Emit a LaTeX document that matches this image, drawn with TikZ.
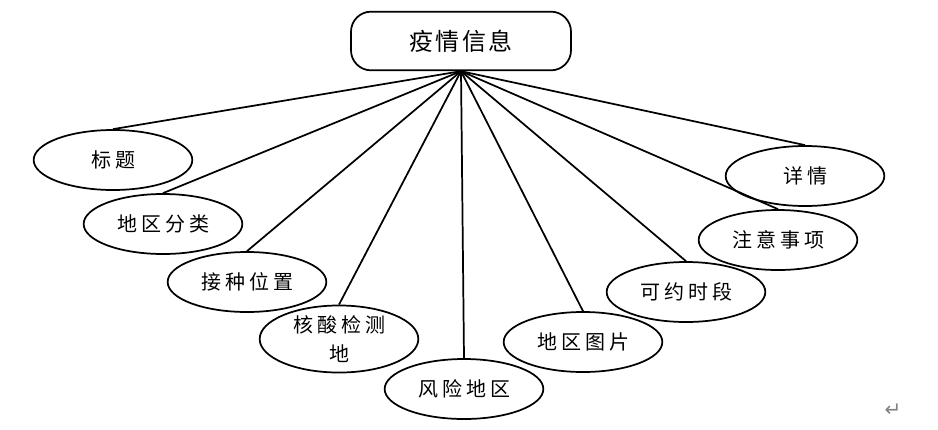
\documentclass[tikz,border=0pt]{standalone}
\usepackage{fontspec}
\newfontfamily\cjk{Noto Sans CJK SC}
\newfontfamily\cjkwide[LetterSpace=20]{Noto Sans CJK SC}
\newfontfamily\cjktitle[LetterSpace=10]{Noto Sans CJK SC}
\newfontfamily\symfont{DejaVu Sans}
\usetikzlibrary{shapes.geometric}
\tikzstyle{root} = [rectangle, rounded corners=15pt, minimum width=165pt, minimum height=44pt, text centered, draw=black, line width=1.3pt, font=\cjktitle\fontsize{18pt}{22pt}\selectfont]
\tikzstyle{attr} = [ellipse, minimum width=119pt, minimum height=45pt, inner sep=0pt, text centered, align=center, draw=black, line width=1.3pt, font=\cjkwide\fontsize{15pt}{22pt}\selectfont]
\tikzstyle{link} = [line width=1.3pt]

\begin{document}
\begin{tikzpicture}[x=0.75pt, y=-0.75pt]
        \useasboundingbox (0,0) rectangle (938,429);

        \node (info) [root] at (461,41) {疫情信息};

        \node (title) [attr] at (113,160) {标题};
        \node (area) [attr] at (163,224) {地区分类};
        \node (vaccine) [attr] at (247,282) {接种位置};
        \node (nucleic) [attr] at (339,339) {核酸检测\\地};
        \node (risk) [attr] at (464,389) {风险地区};
        \node (photo) [attr] at (583,342) {地区图片};
        \node (slot) [attr] at (686,292) {可约时段};
        \node (notice) [attr] at (778,240) {注意事项};
        \node (detail) [attr] at (805,176) {详情};

        \node (mark) [text=gray, font=\symfont\fontsize{15pt}{15pt}\selectfont] at (893,410) {↵};

        \draw [link] (info.south) -- (title.north);
        \draw [link] (info.south) -- (area.north);
        \draw [link] (info.south) -- (vaccine.north);
        \draw [link] (info.south) -- (nucleic.north);
        \draw [link] (info.south) -- (risk.north);
        \draw [link] (info.south) -- (photo.north);
        \draw [link] (info.south) -- (slot.north);
        \draw [link] (info.south) -- (notice.north);
        \draw [link] (info.south) -- (detail.north);
\end{tikzpicture}
\end{document}
